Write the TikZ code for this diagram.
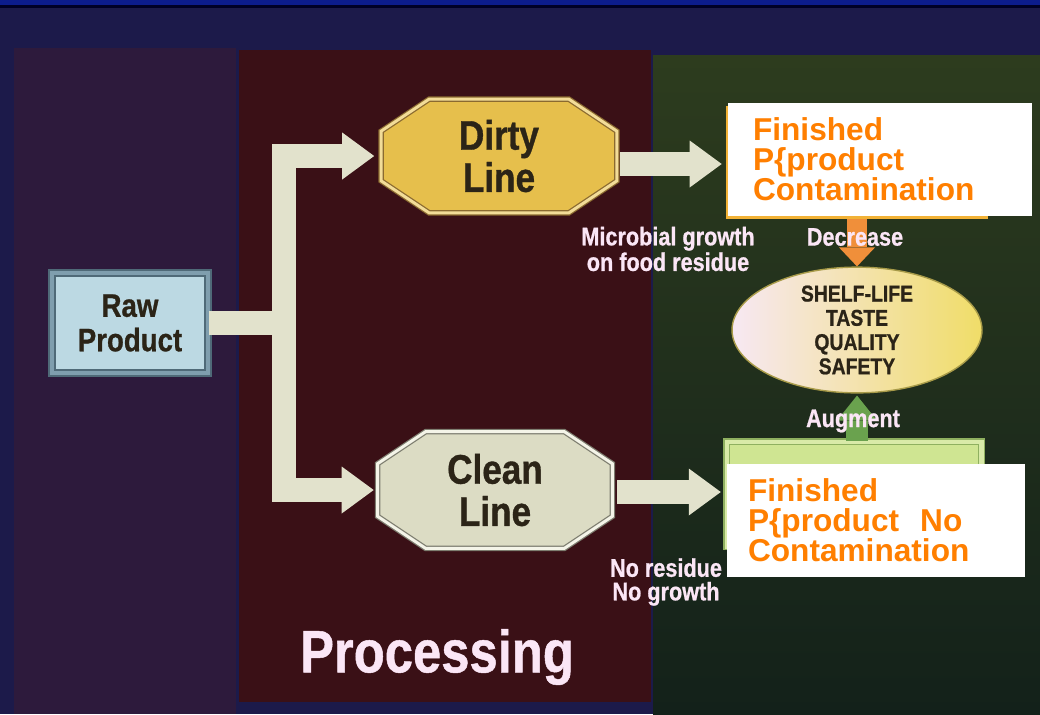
\documentclass[tikz,border=0pt]{standalone}
\usepackage{fontspec}
\newfontfamily\cond{Liberation Sans}[FakeStretch=0.85, BoldFeatures={FakeBold=0.8}]
\newfontfamily\arialf{Liberation Sans}
\usetikzlibrary{arrows.meta,shapes.geometric,calc}
\definecolor{bgnavy}{HTML}{1C1A4A}
\definecolor{topblue}{HTML}{0C1C8C}
\definecolor{leftpanel}{HTML}{2D1A3C}
\definecolor{redpanel}{HTML}{3A1016}
\definecolor{greentop}{HTML}{2D3C1E}
\definecolor{greenbot}{HTML}{13211A}
\definecolor{bandcol}{HTML}{E2E2CC}
\definecolor{darktext}{HTML}{2B2417}
\definecolor{pinkwhite}{HTML}{FBE6F6}
\definecolor{orangetxt}{HTML}{FF7F00}
\definecolor{goldfill}{HTML}{E6BF4C}
\definecolor{goldband}{HTML}{F2DC98}
\definecolor{goldline}{HTML}{8A6A30}
\definecolor{cleanfill}{HTML}{DCDCC4}
\definecolor{cleanband}{HTML}{F4F4E8}
\definecolor{cleanline}{HTML}{7E7E70}
\definecolor{rawfill}{HTML}{BCD9E3}
\definecolor{rawband}{HTML}{7F9EAE}
\definecolor{rawline}{HTML}{4F6A78}
\definecolor{orangebox}{HTML}{F2B236}
\definecolor{greenbox}{HTML}{CFE592}
\definecolor{greenline}{HTML}{8FB060}
\definecolor{decorange}{HTML}{F08F3A}
\definecolor{auggreen}{HTML}{6AA24E}
\definecolor{ellleft}{HTML}{F7E8F3}
\definecolor{ellright}{HTML}{F0DD68}
\pgfdeclarelayer{panel}
\pgfdeclarelayer{bgl}
\pgfsetlayers{panel,bgl,main}
\newcommand\octopath[2]{%
  \begin{pgfonlayer}{bgl}
  \path[#2] ([xshift=0.96cm]#1.north west) -- ([xshift=-0.96cm]#1.north east)
    -- ([yshift=-0.64cm]#1.north east) -- ([yshift=0.64cm]#1.south east)
    -- ([xshift=-0.96cm]#1.south east) -- ([xshift=0.96cm]#1.south west)
    -- ([yshift=0.64cm]#1.south west) -- ([yshift=-0.64cm]#1.north west) -- cycle;
  \end{pgfonlayer}}
\begin{document}
\begin{tikzpicture}[x=0.02cm,y=-0.02cm,
  rawbox/.style={rectangle, fill=rawfill, draw=rawline, double=rawband, double distance=2.8pt, line width=0.85pt,
     minimum width=3.12cm, minimum height=2.0cm, align=center, text=darktext,
     font=\cond\bfseries\fontsize{18.5}{19.6}\selectfont},
  octnode/.style={rectangle, inner sep=0pt, align=center, text=darktext,
     font=\cond\bfseries\fontsize{23.5}{24}\selectfont},
  whitebox/.style={rectangle, fill=white, inner ysep=0pt, align=left, text=orangetxt,
     font=\arialf\bfseries\fontsize{18}{17}\selectfont},
  qualstyle/.style={ellipse, left color=ellleft, right color=ellright, draw=ellright!70!black, line width=0.8pt,
     minimum width=5.0cm, minimum height=2.28cm, inner sep=0pt, align=center, text=darktext,
     font=\cond\bfseries\fontsize{13}{13.8}\selectfont},
  lbl/.style={align=center, text=pinkwhite, inner sep=0pt,
     font=\cond\bfseries\fontsize{14.5}{13.4}\selectfont},
  band/.style={draw=bandcol, line width=0.48cm, line join=miter},
  bigtip/.style={-{Triangle[width=0.94cm,length=0.64cm,line width=0pt]}},
  decarr/.style={draw=decorange, line width=0.4cm, -{Triangle[width=0.72cm,length=0.38cm,line width=0pt]}},
  augarr/.style={draw=auggreen, line width=0.44cm, -{Triangle[width=0.8cm,length=0.5cm,line width=0pt]}}
]
\useasboundingbox (0,0) rectangle (1040,714);
\begin{pgfonlayer}{panel}
  \fill[bgnavy] (0,0) rectangle (1040,714);
  \fill[topblue] (0,0) rectangle (1040,5);
  \fill[black!85!blue] (0,5) rectangle (1040,8);
  \fill[leftpanel] (14,48) rectangle (236,714);
  \fill[redpanel] (239,50) rectangle (651,702);
  \shade[top color=greentop, bottom color=greenbot] (653,55) rectangle (1040,714);
\end{pgfonlayer}

% nodes
\node[rawbox] (raw) at (130,323) {Raw\\Product};
\node[octnode, minimum width=4.7cm, minimum height=2.26cm] (dirty) at (499,156) {Dirty\\Line};
\node[octnode, minimum width=4.68cm, minimum height=2.32cm] (clean) at (495,490) {Clean\\Line};
\octopath{dirty}{fill=goldfill, draw=goldline, double=goldband, double distance=1.7pt, line width=0.7pt}
\octopath{clean}{fill=cleanfill, draw=cleanline, double=cleanband, double distance=1.7pt, line width=0.7pt}

\node[rectangle, fill=orangebox, minimum width=5.24cm, minimum height=2.26cm, inner sep=0pt] (fin1) at (857,162.5) {};
\node[whitebox, minimum width=6.08cm, minimum height=2.26cm, inner xsep=0.5cm, text width=5.08cm] (w1) at (880,159.5)
  {Finished\\P\{product\\Contamination};

\node[rectangle, fill=greenbox, draw=greenline, double=greenbox!80!white, double distance=2.3pt, line width=0.85pt,
  minimum width=5.1cm, minimum height=2.1cm, inner sep=0pt] (fin2) at (854,494) {};
\node[whitebox, minimum width=5.96cm, minimum height=2.26cm, inner xsep=0.42cm, text width=5.12cm] (w2) at (876,520.5)
  {Finished\\P\{product\ \ No\\Contamination};

\node[qualstyle] (qual) at (857,330) {SHELF-LIFE\\TASTE\\QUALITY\\SAFETY};

% connectors
\coordinate (T) at (284,323);
\draw[band] (raw.east) -- (T);
\draw[band, bigtip, shorten >=0.14cm] (T) |- (dirty.west);
\draw[band, bigtip, shorten >=0.08cm] (T) |- (clean.west);
\draw[band, bigtip, shorten <=0.06cm, shorten >=0.08cm] ([yshift=-0.16cm]dirty.east) -- ([yshift=-0.16cm]dirty.east -| fin1.west);
\draw[band, bigtip, shorten <=0.1cm, shorten >=0.1cm] ([yshift=-0.04cm]clean.east) -- ([yshift=-0.04cm]clean.east -| fin2.west);
\draw[decarr] (fin1.south) -- (qual.north);
\draw[augarr, shorten >=0.04cm] (fin2.north -| qual.south) -- (qual.south);

% labels
\node[lbl] (micro) at (668,249) {Microbial growth\\on food residue};
\node[lbl] (nores) at (666,582) {No residue\\No growth};
\node[lbl] (dec) at (855,237) {Decrease};
\node[lbl] (aug) at (853,421) {Augment};
\node[text=pinkwhite, inner sep=0pt, font=\cond\bfseries\fontsize{34}{36}\selectfont] (proc) at (437,657) {Processing};
\end{tikzpicture}
\end{document}
